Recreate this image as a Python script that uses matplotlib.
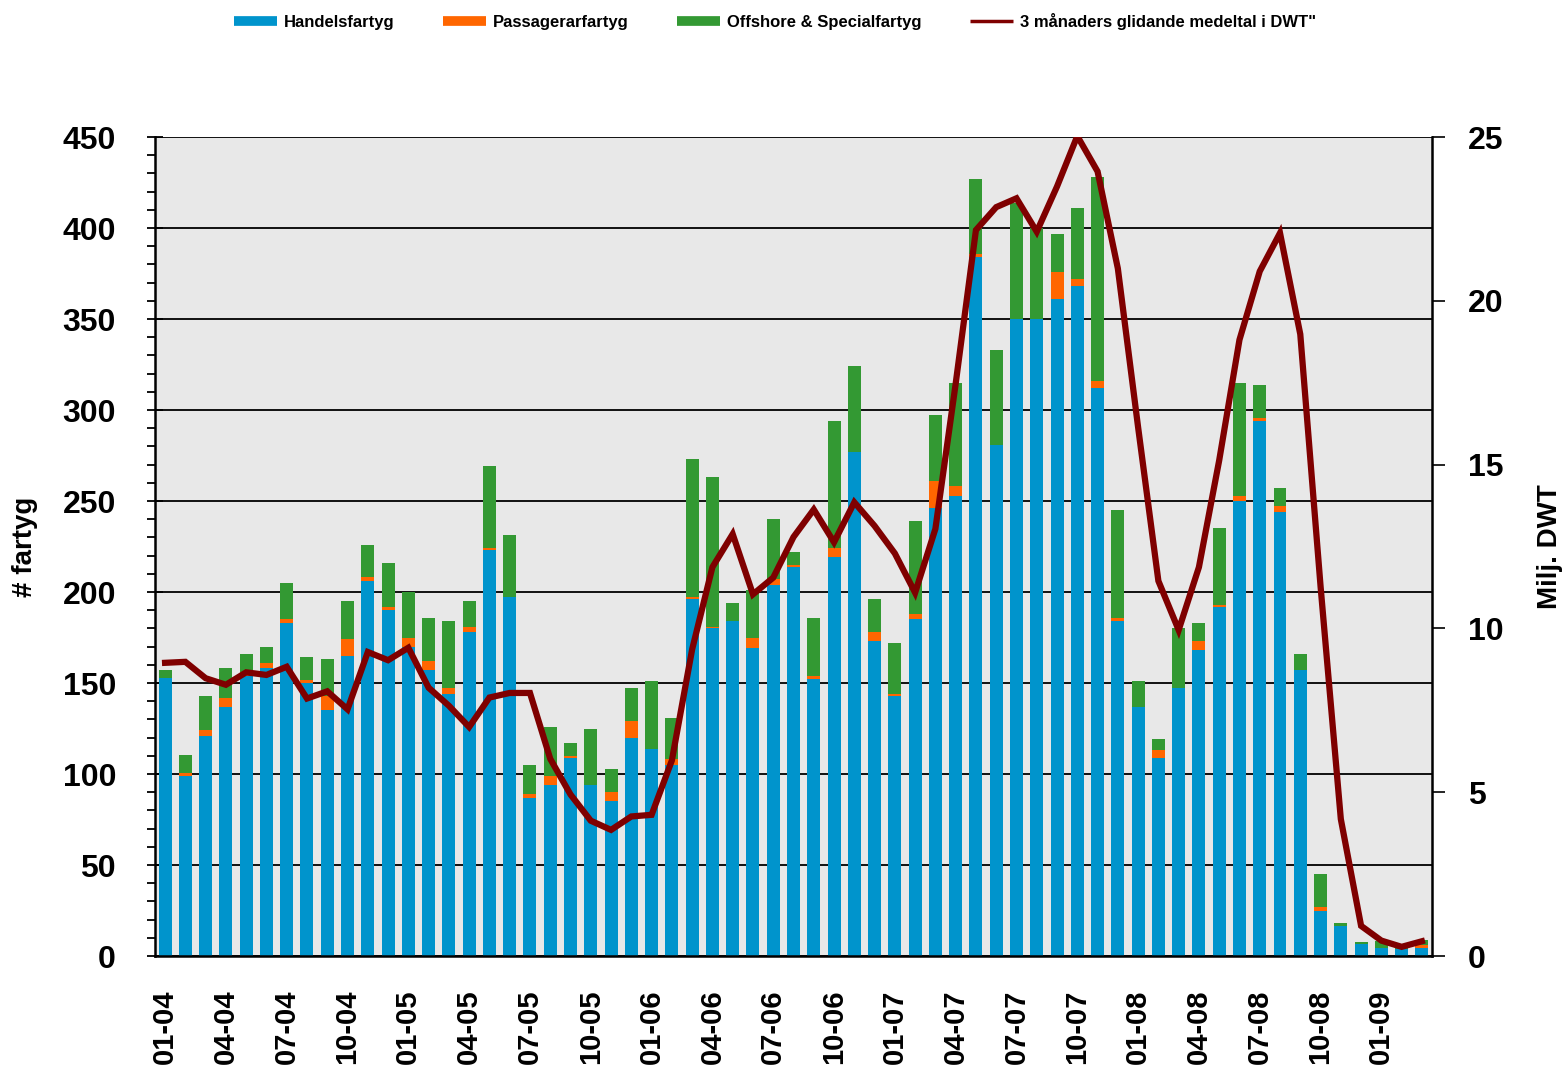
import numpy as np
import matplotlib.pyplot as plt
from matplotlib.lines import Line2D
from matplotlib.ticker import MultipleLocator

plt.rcParams['font.family'] = ['Liberation Sans', 'DejaVu Sans']

# months 01-04 .. 03-09
months = [f'{m:02d}-{y:02d}' for y in range(4, 10) for m in range(1, 13)][:63]

handels = np.array([
    153, 99, 121, 137, 154, 158, 183, 150, 135, 165, 206, 190,
    170, 157, 144, 178, 223, 197, 87, 94, 109, 94, 85, 120,
    114, 105, 196, 180, 184, 169, 204, 214, 152, 219, 277, 173,
    143, 185, 246, 253, 384, 281, 350, 350, 361, 368, 312, 184,
    137, 109, 147, 168, 192, 250, 294, 244, 157, 25, 16.5, 6.5,
    4.5, 4, 4.5])
passagerare = np.array([
    0, 1.5, 3, 5, 2, 3, 2, 1.5, 8, 9, 2, 2,
    5, 5, 3, 3, 1, 0.5, 2, 5, 1, 0, 5, 9,
    0, 3, 1, 1, 0, 6, 3, 1, 2, 5, 0, 5,
    1, 3, 15, 5, 2, -1.5, 0, 0, 15, 4, 4, 2,
    0, 4, 0, 5, 1, 3, 1.5, 3, 0, 2, 0, 0,
    0, 0, 1.5])
offshore = np.array([
    4, 10, 19, 16, 10, 9, 20, 13, 20, 21, 18, 24,
    25, 24, 37, 14, 45, 34, 16, 27, 7, 31, 13, 18,
    37, 23, 76, 82, 10, 26, 33, 7, 32, 70, 47, 18,
    28, 51, 36, 57, 41, 52, 64, 50, 21, 39, 112, 59,
    14, 6, 33, 10, 42, 62, 18, 10, 9, 18, 1.5, 1,
    4, 2, 3])
dwt_3m = np.array([
    8.95, 8.98, 8.48, 8.28, 8.66, 8.58, 8.83, 7.86, 8.08, 7.53, 9.28, 9.03,
    9.41, 8.19, 7.64, 6.99, 7.89, 8.03, 8.03, 6.02, 4.93, 4.13, 3.85, 4.26,
    4.31, 5.97, 9.36, 11.87, 12.88, 11.04, 11.55, 12.79, 13.63, 12.63, 13.85, 13.13,
    12.29, 11.09, 13.04, 17.47, 22.16, 22.86, 23.13, 22.11, 23.49, 25.03, 23.95, 20.99,
    16.14, 11.45, 9.95, 11.87, 15.13, 18.81, 20.90, 22.07, 18.98, 11.29, 4.18, 0.92,
    0.47, 0.28, 0.45])

c_blue = '#0094CC'
c_orange = '#FF6600'
c_green = '#339933'
c_line = '#7F0000'

x = np.arange(len(months))
fig = plt.figure(figsize=(15.62, 10.69), dpi=100)
ax = fig.add_axes([0.0992, 0.1057, 0.8176, 0.7661])
ax.set_facecolor('#E8E8E8')
ax.set_axisbelow(True)

w = 0.64
ax.bar(x, handels, width=w, color=c_blue)
pos_p = np.where(passagerare > 0, passagerare, 0)
neg_p = np.where(passagerare < 0, passagerare, 0)
ax.bar(x, pos_p, width=w, bottom=handels, color=c_orange)
ax.bar(x, neg_p, width=w, bottom=0, color=c_orange)
ax.bar(x, offshore, width=w, bottom=handels + pos_p, color=c_green)

ax.set_xlim(-0.5, len(months) - 0.5)
ax.set_ylim(0, 450)
ax.yaxis.set_major_locator(MultipleLocator(50))
ax.yaxis.set_minor_locator(MultipleLocator(10))
ax.grid(axis='y', which='major', color='black', linewidth=1.3)
ax.set_xticks(x[::3])
ax.set_xticklabels(months[::3], rotation=90, fontsize=21, fontweight='bold')
ax.tick_params(axis='x', length=0, pad=24)
ax.tick_params(axis='y', which='major', direction='inout', length=12, width=1.3,
               labelsize=23, pad=22)
ax.tick_params(axis='y', which='minor', direction='out', length=6, width=1.3)
for lab in ax.get_yticklabels():
    lab.set_fontweight('bold')
ax.set_ylabel('# fartyg', fontsize=20, fontweight='bold', labelpad=18)
for s in ['left', 'bottom']:
    ax.spines[s].set_linewidth(1.8)
ax.spines['top'].set_visible(False)
ax.spines['right'].set_visible(False)

ax2 = ax.twinx()
ax2.plot(x, dwt_3m, color=c_line, linewidth=4.5, solid_joinstyle='miter')
ax2.set_ylim(0, 25)
ax2.yaxis.set_major_locator(MultipleLocator(5))
ax2.tick_params(axis='y', direction='out', length=9, width=1.2, labelsize=23, pad=17)
for lab in ax2.get_yticklabels():
    lab.set_fontweight('bold')
ax2.set_ylabel('Milj. DWT', fontsize=20, fontweight='bold', labelpad=24)
ax2.spines['right'].set_linewidth(1.8)
ax2.spines['top'].set_visible(False)
ax2.spines['left'].set_visible(False)
ax2.spines['bottom'].set_visible(False)

handles = [Line2D([], [], color=c_blue, linewidth=7, solid_capstyle='butt'),
           Line2D([], [], color=c_orange, linewidth=7, solid_capstyle='butt'),
           Line2D([], [], color=c_green, linewidth=7, solid_capstyle='butt'),
           Line2D([], [], color=c_line, linewidth=2.5, solid_capstyle='butt')]
labels = ['Handelsfartyg', 'Passagerarfartyg', 'Offshore & Specialfartyg',
          '3 månaders glidande medeltal i DWT"']
fig.legend(handles, labels, loc='upper center', bbox_to_anchor=(0.496, 1.002),
           ncol=4, frameon=False, handlelength=2.6, handletextpad=0.4,
           columnspacing=2.9, prop={'size': 12, 'weight': 'bold'})

fig.savefig('out.png', dpi=100)
